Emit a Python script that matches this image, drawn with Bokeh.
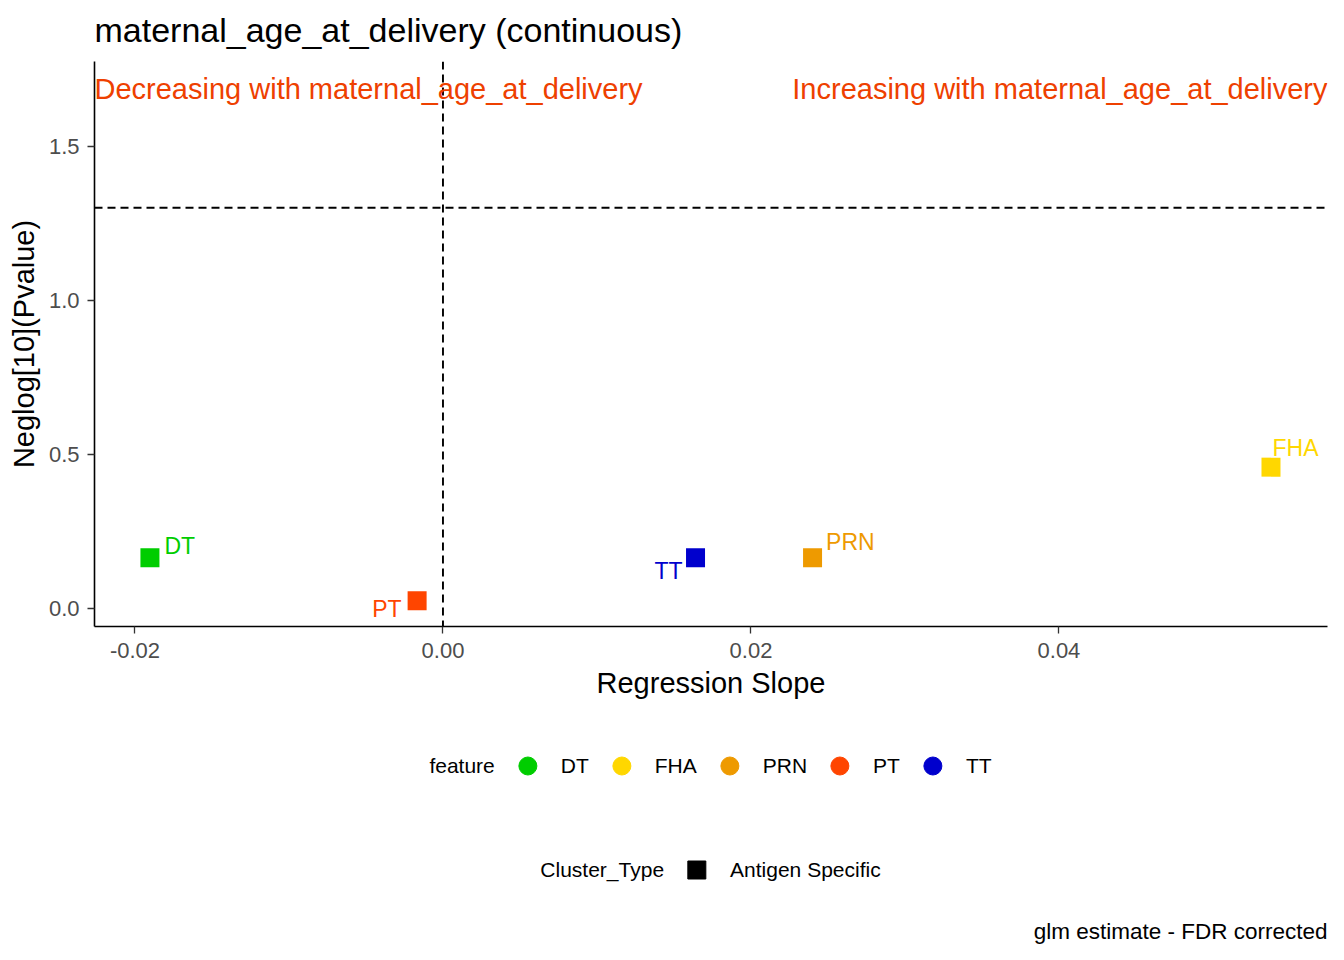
import math
from bokeh.plotting import figure
from bokeh.layouts import column
from bokeh.models import (ColumnDataSource, Range1d, FixedTicker, PrintfTickFormatter,
                          Span, Label, Legend, LegendItem)
from bokeh.core.properties import value
from bokeh.embed import file_html
from bokeh.resources import INLINE

# ---------------- data ----------------
features = ["DT", "FHA", "PRN", "PT", "TT"]
feature_colors = ["#00CD00", "#FFD700", "#EE9A00", "#FF4500", "#0000CD"]
slopes = [-0.01903, 0.05377, 0.02400, -0.00168, 0.01640]
neglog_p = [0.1646, 0.4590, 0.1646, 0.0250, 0.1646]
cluster_types = ["Antigen Specific"]
x_ticks = [-0.02, 0.0, 0.02, 0.04]
y_ticks = [0.0, 0.5, 1.0, 1.5]
p_threshold = 0.05
exposure = "maternal_age_at_delivery"
caption = "glm estimate - FDR corrected"

# label placement (screen px offsets, repel-like)
label_dx = [14.5, 1.5, 13.5, -15.5, -13]
label_dy = [-11.8, -19.3, -15.5, 7.9, 13.5]
label_align = ["left", "left", "left", "right", "right"]

FONT = "Liberation Sans"
FRAME_W, FRAME_H = 1233, 565
LEFT, RIGHT = 94, 8
TITLE_H = 61

x_lo, x_hi = -0.02263, 0.05744
y_lo, y_hi = -0.0584, 1.776


def blank_fig(fw, fh, right=RIGHT):
    f = figure(frame_width=fw, frame_height=fh, output_backend="svg", toolbar_location=None,
               x_range=Range1d(0, 1), y_range=Range1d(0, fh),
               min_border_left=LEFT, min_border_right=right,
               min_border_top=0, min_border_bottom=0)
    f.axis.visible = False
    f.grid.visible = False
    f.outline_line_color = None
    f.border_fill_color = "white"
    f.background_fill_color = "white"
    return f


# ---------------- title strip ----------------
title_fig = blank_fig(FRAME_W, TITLE_H)
title_fig.add_layout(Label(x=0, y=TITLE_H - 29, text=exposure + " (continuous)",
                           text_align="left", text_baseline="alphabetic",
                           text_font=FONT, text_font_size="34px", text_color="black"))

# ---------------- main panel ----------------
p = figure(title=None, frame_width=FRAME_W, frame_height=FRAME_H, output_backend="svg",
           toolbar_location=None, x_range=Range1d(x_lo, x_hi), y_range=Range1d(y_lo, y_hi),
           min_border_left=LEFT, min_border_right=RIGHT, min_border_top=0, min_border_bottom=100)
p.outline_line_color = None
p.xgrid.visible = False
p.ygrid.visible = False
p.background_fill_color = "white"
p.border_fill_color = "white"

for ax in (p.xaxis[0], p.yaxis[0]):
    ax.axis_line_color = "black"
    ax.axis_line_width = 1.6
    ax.major_tick_line_color = "#333333"
    ax.major_tick_line_width = 1.3
    ax.major_tick_out = 7
    ax.major_tick_in = 0
    ax.minor_tick_out = 0
    ax.minor_tick_in = 0
    ax.major_label_text_font = FONT
    ax.major_label_text_font_size = "22px"
    ax.major_label_text_color = "#4D4D4D"
    ax.axis_label_text_font = FONT
    ax.axis_label_text_font_size = "29px"
    ax.axis_label_text_font_style = "normal"
    ax.axis_label_text_color = "black"

p.xaxis.ticker = FixedTicker(ticks=x_ticks)
p.xaxis.formatter = PrintfTickFormatter(format="%.2f")
p.yaxis.ticker = FixedTicker(ticks=y_ticks)
p.yaxis.formatter = PrintfTickFormatter(format="%.1f")
p.xaxis.axis_label = "Regression Slope"
p.yaxis.axis_label = "Neglog[10](Pvalue)"
p.xaxis.major_label_standoff = 9
p.xaxis.axis_label_standoff = 6
p.yaxis.major_label_standoff = 8
p.yaxis.axis_label_standoff = 6

# reference lines
p.add_layout(Span(location=-math.log10(p_threshold), dimension="width",
                  line_color="black", line_width=1.9, line_dash="8 5"))
p.add_layout(Span(location=0, dimension="height",
                  line_color="black", line_width=1.9, line_dash="8 5"))

# direction annotations
ann_color = "#EE4000"
p.add_layout(Label(x=x_lo, y=1.688, text="Decreasing with " + exposure,
                   text_align="left", text_baseline="alphabetic",
                   text_font=FONT, text_font_size="29px", text_color=ann_color))
p.add_layout(Label(x=x_hi, y=1.688, text="Increasing with " + exposure,
                   text_align="right", text_baseline="alphabetic",
                   text_font=FONT, text_font_size="29px", text_color=ann_color))

src = ColumnDataSource(dict(x=slopes, y=neglog_p, feature=features, color=feature_colors,
                            dx=label_dx, dy=label_dy, align=label_align))
p.scatter("x", "y", source=src, marker="square", size=19, fill_color="color",
          line_color="color", line_width=0)
p.text("x", "y", text="feature", source=src, x_offset="dx", y_offset="dy",
       text_align="align", text_baseline="alphabetic", text_color="color",
       text_font=value(FONT), text_font_size="23px")

# ---------------- legend strip ----------------
GLYPH = 45
STANDOFF = 11
BLANK = GLYPH + STANDOFF  # width of the blank key in front of each legend title
# the frame is narrowed by BLANK so the visible legend content is centred under the panel
lg_fig = blank_fig(FRAME_W - BLANK, 188, right=RIGHT + BLANK)


def title_item(text):
    r = lg_fig.scatter(x=[0.5], y=[0.5], marker="circle", size=1,
                       fill_alpha=0, line_alpha=0, visible=False)
    return LegendItem(label=text, renderers=[r])


items1 = [title_item("feature")]
for f, c, xs, ys in zip(features, feature_colors, slopes, neglog_p):
    r = lg_fig.scatter(x=[xs], y=[ys], marker="circle", size=18, fill_color=c,
                       line_color=c, visible=False)
    items1.append(LegendItem(label=f, renderers=[r]))

items2 = [title_item("Cluster_Type")]
for ct in cluster_types:
    r = lg_fig.scatter(x=[0.5], y=[0.5], marker="square", size=18, fill_color="black",
                       line_color="black", visible=False)
    items2.append(LegendItem(label=ct, renderers=[r]))


def make_legend(items, location, margin):
    lg = Legend(items=items, location=location, orientation="horizontal")
    lg.border_line_color = None
    lg.background_fill_alpha = 0
    lg.inactive_fill_alpha = 0
    lg.padding = 0
    lg.margin = margin
    lg.spacing = 10
    lg.glyph_width = GLYPH
    lg.glyph_height = GLYPH
    lg.label_standoff = STANDOFF
    lg.label_text_font = FONT
    lg.label_text_font_size = "21px"
    lg.label_text_color = "black"
    lg.label_text_baseline = "middle"
    return lg


lg_fig.add_layout(make_legend(items1, "top_center", 17))
lg_fig.add_layout(make_legend(items2, "bottom_center", 22))

# ---------------- caption strip ----------------
cap_fig = blank_fig(FRAME_W, 37)
cap_fig.add_layout(Label(x=1, y=20, text=caption, text_align="right", text_baseline="middle",
                         text_font=FONT, text_font_size="22.5px", text_color="black"))

layout = column(title_fig, p, lg_fig, cap_fig, spacing=0)
open("out.html", "w").write(file_html(layout, INLINE))
